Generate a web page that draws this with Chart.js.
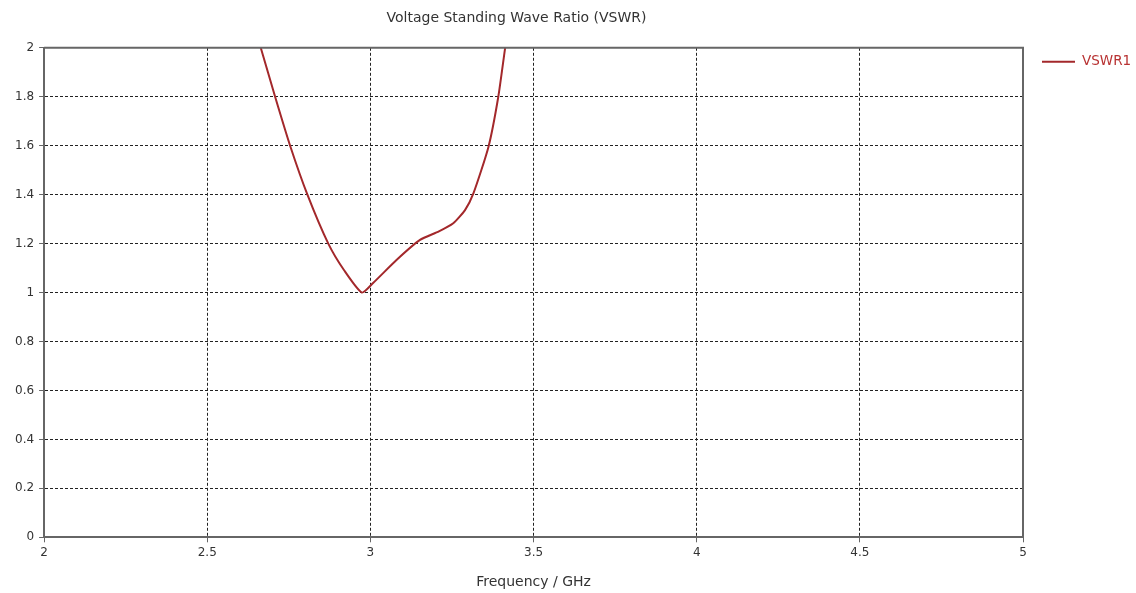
<!DOCTYPE html>
<html>
<head>
<meta charset="utf-8">
<script src="https://cdn.jsdelivr.net/npm/chart.js@4"></script>
<style>
  html, body { margin: 0; padding: 0; background: #fff; }
  #wrap { width: 1136px; height: 593px; }
</style>
</head>
<body>
<div id="wrap"><canvas id="vswrChart" width="1136" height="593"></canvas></div>
<script>
// Frequency (GHz) and VSWR values
const freqGHz = [2.64, 2.664, 2.708, 2.754, 2.807, 2.871, 2.92, 2.974, 3.009, 3.08, 3.152, 3.21, 3.254, 3.29, 3.316, 3.362, 3.392, 3.413, 3.43];
const vswr1 = [2.1, 2.0, 1.8, 1.6, 1.4, 1.2, 1.09, 1.0, 1.04, 1.133, 1.215, 1.25, 1.283, 1.337, 1.406, 1.596, 1.8, 2.0, 2.15];
const xTicks = [2, 2.5, 3, 3.5, 4, 4.5, 5];
const yTicks = [0, 0.2, 0.4, 0.6, 0.8, 1, 1.2, 1.4, 1.6, 1.8, 2];

const lineColor = '#a3282b';
const fontFamily = '"DejaVu Sans", Tahoma, sans-serif';

Chart.defaults.font.family = fontFamily;
Chart.defaults.font.size = 12;
Chart.defaults.color = '#333';

// draws the frame (top and right edges) plus a simple legend on the right
const frameAndLegend = {
    id: 'frameAndLegend',
    afterDraw(chart) {
        const { ctx, chartArea } = chart;
        ctx.save();
        ctx.strokeStyle = '#666';
        ctx.lineWidth = 2;
        ctx.beginPath();
        ctx.moveTo(chartArea.left, chartArea.top);
        ctx.lineTo(chartArea.right, chartArea.top);
        ctx.lineTo(chartArea.right, chartArea.bottom);
        ctx.stroke();

        // legend
        const ds = chart.data.datasets[0];
        const lx = chartArea.right + 19;
        const ly = chartArea.top + 14;
        ctx.strokeStyle = ds.borderColor;
        ctx.lineWidth = 2;
        ctx.beginPath();
        ctx.moveTo(lx, ly);
        ctx.lineTo(lx + 33, ly);
        ctx.stroke();
        ctx.fillStyle = '#b83232';
        ctx.font = '13.5px ' + fontFamily;
        ctx.textBaseline = 'middle';
        ctx.fillText(ds.label, lx + 40, ly);
        ctx.restore();
    }
};

const ctx = document.getElementById('vswrChart').getContext('2d');
new Chart(ctx, {
    type: 'line',
    data: {
        datasets: [{
            label: 'VSWR1',
            data: freqGHz.map((f, i) => ({ x: f, y: vswr1[i] })),
            borderColor: lineColor,
            borderWidth: 2,
            pointRadius: 0,
            tension: 0.2,
            fill: false
        }]
    },
    options: {
        responsive: false,
        animation: false,
        layout: { padding: { left: 10, right: 113, top: 0, bottom: 2.5 } },
        plugins: {
            legend: { display: false },
            tooltip: { enabled: false },
            title: {
                display: true,
                text: 'Voltage Standing Wave Ratio (VSWR)',
                color: '#333',
                font: { size: 14, weight: 'normal' },
                padding: { top: 10, bottom: 21 }
            }
        },
        scales: {
            x: {
                type: 'linear',
                min: 2,
                max: 5,
                afterBuildTicks: axis => { axis.ticks = xTicks.map(v => ({ value: v })); },
                ticks: {
                    color: '#333',
                    padding: 3,
                    maxRotation: 0,
                    callback: v => String(v)
                },
                grid: {
                    color: '#222',
                    lineWidth: 1,
                    tickLength: 5,
                    tickColor: '#666'
                },
                border: { color: '#666', width: 2, dash: [3, 2] },
                title: {
                    display: true,
                    text: 'Frequency / GHz',
                    color: '#333',
                    font: { size: 14 },
                    padding: { top: 11, bottom: 0 }
                }
            },
            y: {
                min: 0,
                max: 2,
                afterBuildTicks: axis => { axis.ticks = yTicks.map(v => ({ value: v })); },
                ticks: {
                    color: '#333',
                    padding: 5,
                    callback: v => String(+v.toFixed(2))
                },
                grid: {
                    color: '#222',
                    lineWidth: 1,
                    tickLength: 5,
                    tickColor: '#666'
                },
                border: { color: '#666', width: 2, dash: [3, 2] }
            }
        }
    },
    plugins: [frameAndLegend]
});
</script>
</body>
</html>
